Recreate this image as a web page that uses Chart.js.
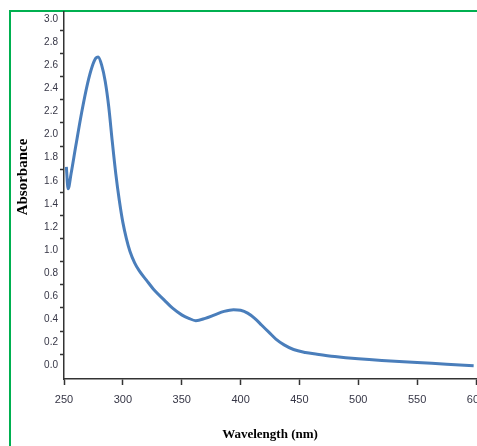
<!DOCTYPE html>
<html>
<head>
<meta charset="utf-8">
<script src="https://cdn.jsdelivr.net/npm/chart.js@4.4.1/dist/chart.umd.min.js"></script>
<style>
  html, body { margin: 0; padding: 0; background: #fff; overflow: hidden; }
  body { width: 477px; height: 446px; position: relative; }
  #frame { position: absolute; left: 9px; top: 10px; right: 0; bottom: 0; border-top: 2px solid #00b050; border-left: 2px solid #00b050; }
  #spectrumChart { position: absolute; left: 0; top: 0; }
</style>
</head>
<body>
<div id="frame"></div>
<canvas id="spectrumChart" width="500" height="446"></canvas>
<script>
// UV-Vis spectrum
const wavelengths = [252, 253.5, 256, 260, 265, 270, 274, 277, 279, 282, 285, 288, 291, 294, 297, 300, 303, 306, 310, 314, 320, 327, 335, 342, 350, 356, 362, 370, 378, 386, 394, 400, 406, 412, 418, 424, 430, 437, 445, 455, 465, 480, 500, 520, 550, 575, 598];
const absorbance = [1.72, 1.53, 1.66, 1.90, 2.19, 2.44, 2.59, 2.66, 2.67, 2.60, 2.46, 2.24, 1.94, 1.66, 1.43, 1.24, 1.10, 0.99, 0.89, 0.82, 0.74, 0.65, 0.57, 0.50, 0.44, 0.41, 0.39, 0.41, 0.44, 0.47, 0.485, 0.48, 0.455, 0.41, 0.35, 0.29, 0.23, 0.18, 0.14, 0.115, 0.10, 0.08, 0.06, 0.045, 0.028, 0.013, 0.0];

// Axis ticks
const xTickLabels = [250, 300, 350, 400, 450, 500, 550, 600];
const yTickValues = [0, 0.2, 0.4, 0.6, 0.8, 1.0, 1.2, 1.4, 1.6, 1.8, 2.0, 2.2, 2.4, 2.6, 2.8, 3.0];
const yTickLabels = ['0.0', '0.2', '0.4', '0.6', '0.8', '1.0', '1.2', '1.4', '1.6', '1.8', '2.0', '2.2', '2.4', '2.6', '2.8', '3.0'];
// tick marks in the figure sit between the labels
const yTickMarks = [0.1, 0.3, 0.5, 0.7, 0.9, 1.1, 1.3, 1.5, 1.7, 1.9, 2.1, 2.3, 2.5, 2.7, 2.9];

const tickFont = { family: "'Liberation Sans', Arial, sans-serif", size: 10 };
const tickColor = "#363646";
const axisColor = "#333";

// y axis title drawn by hand so it sits where the original had it
const yTitlePlugin = {
  id: "yTitle",
  afterDraw(chart) {
    const c = chart.ctx;
    c.save();
    c.translate(23, 177);
    c.rotate(-Math.PI / 2);
    c.font = "bold 15px 'Liberation Serif', serif";
    c.fillStyle = "#000";
    c.textAlign = "center";
    c.textBaseline = "middle";
    c.fillText("Absorbance", 0, 0);
    c.restore();
  }
};

const ctx = document.getElementById("spectrumChart");
new Chart(ctx, {
  type: "line",
  data: {
    datasets: [{
      label: "Absorbance",
      data: wavelengths.map((w, i) => ({ x: w, y: absorbance[i] })),
      borderColor: "#4a7ebb",
      borderWidth: 3,
      pointRadius: 0,
      cubicInterpolationMode: "monotone",
      fill: false
    }]
  },
  options: {
    responsive: false,
    animation: false,
    layout: { padding: { left: 14, right: 24, top: 12, bottom: 0 } },
    plugins: {
      legend: { display: false },
      tooltip: { enabled: false }
    },
    scales: {
      x: {
        type: "linear",
        min: 250,
        max: 600,
        afterBuildTicks: axis => { axis.ticks = xTickLabels.map(v => ({ value: v })); },
        afterFit: axis => { axis.height = 67; },
        border: { display: true, color: axisColor, width: 1.5 },
        grid: { drawOnChartArea: false, drawTicks: true, tickLength: 6, tickColor: axisColor, tickWidth: 1.5 },
        ticks: { autoSkip: false, maxRotation: 0, padding: 8, color: tickColor, font: { ...tickFont, size: 11 } },
        title: {
          display: true,
          text: "Wavelength (nm)",
          color: "#000",
          font: { family: "'Liberation Serif', serif", weight: "bold", size: 13 },
          padding: { top: 0, bottom: 4 }
        }
      },
      y: {
        type: "linear",
        min: -0.115,
        max: 3.06,
        afterBuildTicks: axis => {
          axis.ticks = [...yTickValues, ...yTickMarks].sort((a, b) => a - b).map(v => ({ value: v }));
        },
        afterFit: axis => { axis.width = 50; },
        border: { display: true, color: axisColor, width: 1.5 },
        grid: {
          drawOnChartArea: false,
          drawTicks: true,
          tickLength: 4,
          tickWidth: 1.5,
          tickColor: c => (c.tick && yTickMarks.includes(c.tick.value)) ? axisColor : "rgba(0,0,0,0)"
        },
        ticks: {
          autoSkip: false,
          padding: 2,
          color: tickColor,
          font: tickFont,
          callback: v => {
            const i = yTickValues.indexOf(v);
            return i >= 0 ? yTickLabels[i] : "";
          }
        }
      }
    }
  },
  plugins: [yTitlePlugin]
});
</script>
</body>
</html>
